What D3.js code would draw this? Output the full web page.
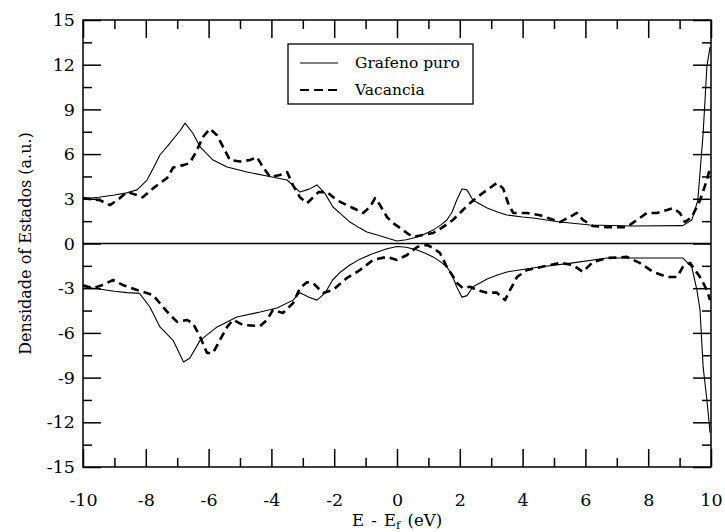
<!DOCTYPE html>
<html>
<head>
<meta charset="utf-8">
<script src="https://cdn.jsdelivr.net/npm/d3@7/dist/d3.min.js"></script>
<style>
  html, body { margin: 0; padding: 0; background: #fff; }
  svg { display: block; }
  text { font-family: "DejaVu Serif", "Liberation Serif", serif; fill: #000; }
</style>
</head>
<body>
<svg id="chart" width="725" height="532"></svg>
<script>
// ---------- DATA ----------
const seriesNames = ["Grafeno puro", "Vacancia"];

const xMajorTicks = [-10, -8, -6, -4, -2, 0, 2, 4, 6, 8, 10];
const xMinorTicks = [-9, -7, -5, -3, -1, 1, 3, 5, 7, 9];
const yMajorTicks = [-15, -12, -9, -6, -3, 0, 3, 6, 9, 12, 15];
const yMinorTicks = [-13.5, -10.5, -7.5, -4.5, -1.5, 1.5, 4.5, 7.5, 10.5, 13.5];

// Grafeno puro, spin up
const grafUpE   = [-10, -9.5, -9.0, -8.6, -8.28, -7.96, -7.75, -7.55, -7.23, -6.9, -6.75, -6.5, -6.27, -5.86, -5.41, -4.78, -4.14, -3.5, -3.09, -2.8, -2.55, -2.3, -2.04, -1.8, -1.5, -1.2, -0.96, -0.6, -0.32, 0.0, 0.3, 0.64, 0.9, 1.15, 1.4, 1.59, 1.75, 1.9, 2.07, 2.23, 2.42, 2.87, 3.2, 3.5, 4.0, 4.33, 5.19, 6.15, 7.5, 9.1, 9.39, 9.58, 9.75, 9.87, 9.97];
const grafUpDos = [3.0, 3.1, 3.25, 3.4, 3.6, 4.26, 5.1, 5.94, 6.74, 7.6, 8.08, 7.4, 6.48, 5.6, 5.13, 4.8, 4.53, 4.26, 3.45, 3.65, 3.93, 3.38, 2.45, 2.0, 1.44, 1.05, 0.77, 0.55, 0.37, 0.17, 0.25, 0.44, 0.65, 0.9, 1.25, 1.58, 2.1, 2.9, 3.66, 3.6, 2.9, 2.38, 2.12, 1.91, 1.78, 1.71, 1.44, 1.24, 1.17, 1.2, 1.58, 2.9, 7.4, 11.9, 13.2];

// Grafeno puro, spin down
const grafDownE   = [-10, -9.5, -9.0, -8.6, -8.2, -7.87, -7.55, -7.13, -6.8, -6.6, -6.27, -5.73, -5.1, -4.36, -3.82, -3.31, -3.09, -2.8, -2.55, -2.3, -2.05, -1.82, -1.5, -1.18, -0.8, -0.32, 0.0, 0.3, 0.64, 0.9, 1.15, 1.4, 1.59, 1.75, 1.9, 2.07, 2.23, 2.42, 2.87, 3.2, 3.5, 4.0, 4.55, 5.6, 6.69, 8.0, 9.1, 9.39, 9.55, 9.65, 9.75, 9.87, 9.97];
const grafDownDos = [-2.9, -3.05, -3.2, -3.3, -3.35, -4.26, -5.6, -6.5, -7.95, -7.7, -6.5, -5.6, -4.93, -4.6, -4.33, -3.8, -3.3, -3.6, -3.8, -3.35, -2.45, -1.95, -1.44, -1.05, -0.7, -0.35, -0.2, -0.25, -0.44, -0.65, -0.9, -1.25, -1.58, -2.1, -2.9, -3.6, -3.5, -2.9, -2.38, -2.12, -1.91, -1.75, -1.58, -1.3, -0.97, -0.97, -0.97, -1.58, -3.12, -4.46, -8.3, -10.5, -12.7];

// Vacancia, spin up
const vacUpE   = [-10, -9.46, -9.14, -8.85, -8.6, -8.28, -8.1, -7.77, -7.32, -7.13, -6.8, -6.6, -6.37, -6.18, -5.96, -5.73, -5.54, -5.32, -5.0, -4.68, -4.46, -4.27, -4.04, -3.73, -3.5, -3.31, -3.09, -2.87, -2.67, -2.5, -2.23, -1.91, -1.6, -1.27, -1.08, -0.86, -0.7, -0.54, -0.32, -0.13, 0.1, 0.32, 0.51, 0.83, 1.15, 1.46, 1.78, 2.1, 2.32, 2.55, 2.87, 3.18, 3.38, 3.54, 3.7, 4.14, 4.55, 5.19, 5.5, 5.73, 5.92, 6.24, 6.69, 7.32, 7.64, 7.96, 8.28, 8.6, 8.79, 9.01, 9.17, 9.39, 9.65, 9.87, 9.97];
const vacUpDos = [3.05, 2.9, 2.58, 3.0, 3.46, 3.25, 3.1, 3.7, 4.4, 5.1, 5.26, 5.4, 6.27, 7.15, 7.7, 7.27, 6.48, 5.6, 5.5, 5.6, 5.8, 5.13, 4.46, 4.6, 4.8, 3.9, 3.1, 2.7, 3.1, 3.45, 3.45, 2.9, 2.58, 2.25, 2.05, 2.45, 3.05, 2.58, 1.78, 1.37, 1.04, 0.7, 0.44, 0.57, 0.7, 1.1, 1.58, 2.25, 2.7, 3.1, 3.6, 4.06, 3.7, 2.7, 2.05, 2.05, 1.9, 1.44, 1.78, 2.05, 1.58, 1.17, 1.1, 1.1, 1.58, 2.05, 2.05, 2.25, 2.38, 2.05, 1.44, 1.78, 2.9, 4.26, 5.1];

// Vacancia, spin down
const vacDownE   = [-10, -9.68, -9.4, -9.04, -8.72, -8.28, -7.77, -7.45, -7.23, -7.0, -6.69, -6.5, -6.27, -6.05, -5.86, -5.64, -5.41, -5.22, -4.9, -4.36, -4.14, -3.95, -3.63, -3.31, -3.09, -2.87, -2.67, -2.36, -2.04, -1.6, -1.18, -0.76, -0.32, 0.0, 0.32, 0.64, 0.96, 1.15, 1.37, 1.59, 1.75, 1.91, 2.1, 2.32, 2.55, 2.87, 3.18, 3.44, 3.6, 3.82, 4.14, 4.55, 5.19, 5.6, 5.92, 6.24, 6.69, 7.32, 7.73, 8.15, 8.6, 8.92, 9.1, 9.33, 9.65, 9.87, 9.97];
const vacDownDos = [-2.8, -3.0, -2.8, -2.45, -2.8, -3.12, -3.46, -4.26, -4.8, -5.26, -5.13, -5.34, -6.27, -7.35, -7.35, -6.48, -5.6, -5.13, -5.47, -5.54, -5.13, -4.46, -4.66, -4.0, -3.0, -2.6, -2.65, -3.32, -3.12, -2.32, -1.78, -1.1, -0.9, -1.1, -0.77, -0.23, -0.1, -0.3, -0.64, -1.58, -2.1, -2.65, -3.0, -2.9, -3.12, -3.3, -3.3, -3.8, -3.12, -2.25, -1.78, -1.6, -1.3, -1.44, -1.9, -1.24, -0.97, -0.9, -1.3, -1.9, -2.25, -2.25, -1.58, -1.3, -2.25, -3.12, -3.8];

// ---------- LAYOUT ----------
const svg = d3.select("#chart");
const plot = { left: 83, right: 711, top: 20, bottom: 467 };

const x = d3.scaleLinear().domain([-10, 10]).range([plot.left, plot.right]);
const y = d3.scaleLinear().domain([-15, 15]).range([plot.bottom, plot.top]);

const majorLen = 18, minorLen = 9;
const fmt = d => String(d);   // plain hyphen-minus, as in the reference

svg.append("defs").append("clipPath").attr("id", "clip")
  .append("rect")
  .attr("x", plot.left).attr("y", plot.top)
  .attr("width", plot.right - plot.left).attr("height", plot.bottom - plot.top);

function styleAxis(g) {
  g.select(".domain").remove();
  g.selectAll(".tick line").attr("stroke", "#000").attr("stroke-width", 1.5);
}

// bottom axis with labels
const gBottom = svg.append("g").attr("transform", `translate(0,${plot.bottom})`)
  .call(d3.axisBottom(x).tickValues(xMajorTicks).tickSize(-majorLen).tickPadding(majorLen + 9)
    .tickFormat(fmt));
styleAxis(gBottom);
gBottom.selectAll(".tick text").attr("font-size", "17.5px").attr("font-family", "DejaVu Serif");
svg.append("g").attr("transform", `translate(0,${plot.bottom})`)
  .call(d3.axisBottom(x).tickValues(xMinorTicks).tickSize(-minorLen).tickFormat(""))
  .call(styleAxis);

// top axis, ticks only
svg.append("g").attr("transform", `translate(0,${plot.top})`)
  .call(d3.axisTop(x).tickValues(xMajorTicks).tickSize(-majorLen).tickFormat(""))
  .call(styleAxis);
svg.append("g").attr("transform", `translate(0,${plot.top})`)
  .call(d3.axisTop(x).tickValues(xMinorTicks).tickSize(-minorLen).tickFormat(""))
  .call(styleAxis);

// left axis with labels
const gLeft = svg.append("g").attr("transform", `translate(${plot.left},0)`)
  .call(d3.axisLeft(y).tickValues(yMajorTicks).tickSize(-majorLen).tickPadding(8)
    .tickFormat(fmt));
styleAxis(gLeft);
gLeft.selectAll(".tick text").attr("font-size", "17.5px").attr("font-family", "DejaVu Serif");
svg.append("g").attr("transform", `translate(${plot.left},0)`)
  .call(d3.axisLeft(y).tickValues(yMinorTicks).tickSize(-minorLen).tickFormat(""))
  .call(styleAxis);

// right axis, ticks only
svg.append("g").attr("transform", `translate(${plot.right},0)`)
  .call(d3.axisRight(y).tickValues(yMajorTicks).tickSize(-majorLen).tickFormat(""))
  .call(styleAxis);
svg.append("g").attr("transform", `translate(${plot.right},0)`)
  .call(d3.axisRight(y).tickValues(yMinorTicks).tickSize(-minorLen).tickFormat(""))
  .call(styleAxis);

// zero line
svg.append("line")
  .attr("x1", x(-10)).attr("x2", x(10)).attr("y1", y(0)).attr("y2", y(0))
  .attr("stroke", "#000").attr("stroke-width", 1.5);

// curves
const line = d3.line().x(d => x(d[0])).y(d => y(d[1])).curve(d3.curveLinear);
const zip = (a, b) => a.map((v, i) => [v, b[i]]);

const curves = svg.append("g").attr("clip-path", "url(#clip)");
const solidStyle = { stroke: "#000", width: 1.1, dash: null };
const dashStyle = { stroke: "#000", width: 2.6, dash: "8,5" };

[[grafUpE, grafUpDos, solidStyle], [grafDownE, grafDownDos, solidStyle],
 [vacUpE, vacUpDos, dashStyle], [vacDownE, vacDownDos, dashStyle]].forEach(([e, d, s]) => {
  curves.append("path")
    .datum(zip(e, d))
    .attr("d", line)
    .attr("fill", "none")
    .attr("stroke", s.stroke)
    .attr("stroke-width", s.width)
    .attr("stroke-linejoin", "round")
    .attr("stroke-dasharray", s.dash);
});

// frame
svg.append("rect")
  .attr("x", plot.left).attr("y", plot.top)
  .attr("width", plot.right - plot.left).attr("height", plot.bottom - plot.top)
  .attr("fill", "none").attr("stroke", "#000").attr("stroke-width", 1.5);

// legend
const leg = svg.append("g");
leg.append("rect").attr("x", 288).attr("y", 44).attr("width", 185).attr("height", 60)
  .attr("fill", "#fff").attr("stroke", "#000").attr("stroke-width", 1.3);
const legStyles = [solidStyle, { stroke: "#000", width: 1.8, dash: "9,5" }];
seriesNames.forEach((name, i) => {
  const yy = 63 + i * 27;
  leg.append("line").attr("x1", 300).attr("x2", 338).attr("y1", yy).attr("y2", yy)
    .attr("stroke", "#000").attr("stroke-width", legStyles[i].width)
    .attr("stroke-dasharray", legStyles[i].dash);
  leg.append("text").attr("x", 355).attr("y", yy + 5)
    .attr("font-size", "15.5px").text(name);
});

// axis titles
const xt = svg.append("text").attr("x", (plot.left + plot.right) / 2).attr("y", 526)
  .attr("text-anchor", "middle").attr("font-size", "16.5px")
  .attr("word-spacing", "2px");
xt.append("tspan").text("E - E");
xt.append("tspan").attr("font-size", "11.5px").attr("dy", 3).text("f");
xt.append("tspan").attr("dy", -3).text(" (eV)");

svg.append("text")
  .attr("transform", `translate(31,${(plot.top + plot.bottom) / 2}) rotate(-90)`)
  .attr("text-anchor", "middle").attr("font-size", "16px")
  .text("Densidade of Estados (a.u.)");
</script>
</body>
</html>
